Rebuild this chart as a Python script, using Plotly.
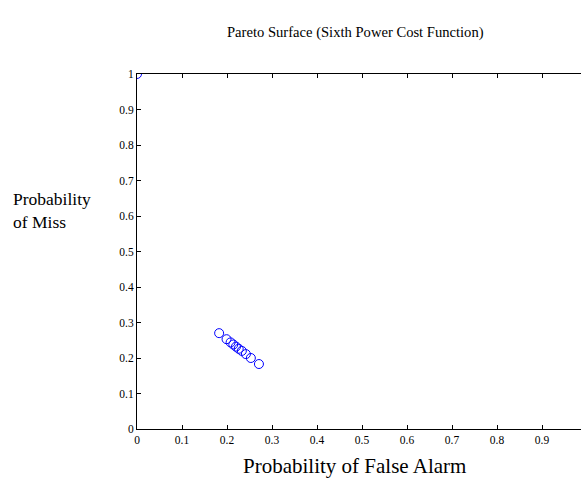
import plotly.graph_objects as go

# Pareto points (probability of false alarm, probability of miss)
pfa = [0.0, 0.1825, 0.199, 0.208, 0.214, 0.220, 0.226, 0.233, 0.242, 0.253, 0.271]
pmiss = [1.0, 0.270, 0.253, 0.244, 0.238, 0.232, 0.226, 0.220, 0.211, 0.200, 0.183]

x_ticks = [0, 0.1, 0.2, 0.3, 0.4, 0.5, 0.6, 0.7, 0.8, 0.9]
y_ticks = [0, 0.1, 0.2, 0.3, 0.4, 0.5, 0.6, 0.7, 0.8, 0.9, 1]

title_text = "Pareto Surface (Sixth Power Cost Function)"
x_title = "Probability of False Alarm"
y_title = "Probability<br>of Miss"

FONT = "Liberation Serif, Times New Roman, serif"

fig = go.Figure()
fig.add_trace(go.Scatter(
    x=pfa, y=pmiss, mode="markers",
    marker=dict(symbol="circle-open", size=9, color="#0000ff", line=dict(width=1, color="#0000ff")),
    cliponaxis=True, showlegend=False, hoverinfo="skip",
))

W, H = 581, 478
L, T, B = 137, 74, 49
plot_w = W - L
px_per_unit = 450.0

fig.update_layout(
    width=W, height=H,
    margin=dict(l=L, r=0, t=T, b=B),
    paper_bgcolor="white", plot_bgcolor="white",
    font=dict(family=FONT, size=11.5, color="black"),
    xaxis=dict(range=[0, plot_w / px_per_unit], tickvals=x_ticks,
               ticktext=[("%g" % v) for v in x_ticks],
               ticks="inside", ticklen=4, tickwidth=1, tickcolor="black",
               showline=True, linecolor="black", linewidth=1, mirror="ticks",
               showgrid=False, zeroline=False, fixedrange=True),
    yaxis=dict(range=[0, 1], tickvals=y_ticks,
               ticktext=[("%g" % v) for v in y_ticks],
               ticks="inside", ticklen=4, tickwidth=1, tickcolor="black",
               showline=True, linecolor="black", linewidth=1, mirror=False,
               showgrid=False, zeroline=False, fixedrange=True),
    annotations=[
        dict(text=title_text, xref="paper", yref="paper",
             x=(355 - L) / plot_w, y=1 + (74 - 33) / 355.0,
             xanchor="center", yanchor="middle", showarrow=False,
             font=dict(family=FONT, size=14.6)),
        dict(text=x_title, xref="paper", yref="paper",
             x=(354 - L) / plot_w, y=-(466 - 429) / 355.0,
             xanchor="center", yanchor="middle", showarrow=False,
             font=dict(family=FONT, size=21)),
        dict(text=y_title, xref="paper", yref="paper",
             x=(11 - L) / plot_w, y=(429 - 210) / 355.0,
             xanchor="left", yanchor="middle", align="left", showarrow=False,
             font=dict(family=FONT, size=17.5)),
    ],
)

fig.write_html("out.html")
